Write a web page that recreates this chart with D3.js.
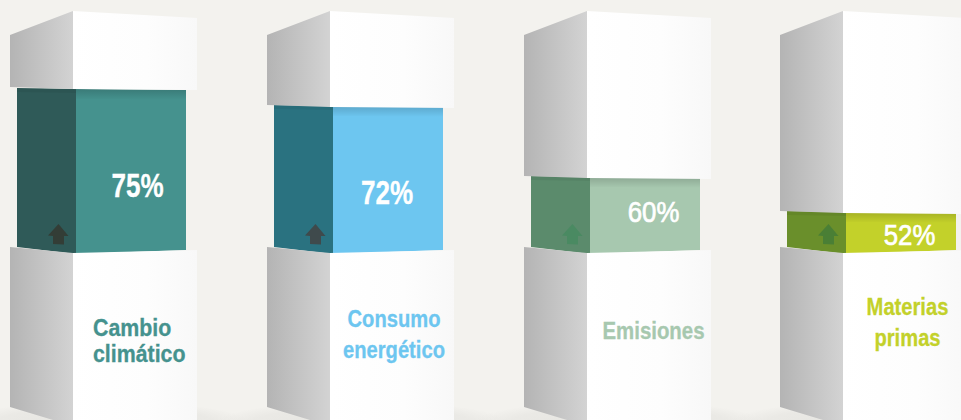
<!DOCTYPE html>
<html><head><meta charset="utf-8">
<script src="https://cdnjs.cloudflare.com/ajax/libs/d3/7.8.5/d3.min.js"></script>
<style>html,body{margin:0;padding:0;background:#f3f2ee}svg{display:block}text{font-family:"Liberation Sans",Arial,sans-serif}</style>
</head><body><svg id="c" width="961" height="420"></svg>
<script>
const categories=[["Cambio","climático"],["Consumo","energético"],["Emisiones"],["Materias","primas"]];
const values=[75,72,60,52];
const frontColors=["#45928e","#6dc6f0","#a7c8af","#c3d12a"];
const sideColors=["#2f5a58","#2a7280","#5b8b6c","#6a8f2b"];
const arrowColors=["#333d36","#3f4a4c","#4a8a62","#4a7f35"];
const valueText=["75%","72%","60%","52%"];

const svg=d3.select("#c");
const defs=svg.append("defs");
const lg=(id,stops)=>{const g=defs.append("linearGradient").attr("id",id);stops.forEach(([o,c,a])=>g.append("stop").attr("offset",o).attr("stop-color",c).attr("stop-opacity",a==null?1:a));return g;};
lg("side",[[0,"#b4b4b4"],[1,"#d3d3d3"]]);
lg("front",[[0,"#ffffff"],[0.6,"#fdfdfd"],[1,"#f8f8f8"]]);
const sh=defs.append("radialGradient").attr("id","floor");
sh.append("stop").attr("offset",0).attr("stop-color","#e4e3df").attr("stop-opacity",1);
sh.append("stop").attr("offset",.75).attr("stop-color","#e8e7e3").attr("stop-opacity",.8);
sh.append("stop").attr("offset",1).attr("stop-color","#e8e7e3").attr("stop-opacity",0);
lg("dark",[[0,"#000",.16],[1,"#000",0]]).attr("x2",0).attr("y2",1);

// column position and value → bar-top position
const x=d3.scaleOrdinal().domain(d3.range(4)).range([0,257,514,770]);
const y=d3.scaleLinear().domain([52,60,72,75]).range([211,176,105,88]);

// box shape (relative to each column)
const L=10,C=73,R=197;
const line=d3.line();

const cols=svg.selectAll("g.col").data(values).join("g").attr("class","col")
  .attr("transform",(d,i)=>`translate(${x(i)},0)`);

cols.append("ellipse").attr("cx",105).attr("cy",425).attr("rx",150).attr("ry",24).attr("fill","url(#floor)");

cols.each(function(v,i){
  const g=d3.select(this),t=y(v);
  const bl=17,bc=76,br=186;
  g.append("path").attr("d",line([[bl,t],[bc,t+1],[bc,254],[bl,247]])).attr("fill",sideColors[i]);
  g.append("path").attr("d",line([[bc,t+1],[br,t+2],[br,250],[bc,254]])).attr("fill",frontColors[i]);
  g.append("path").attr("d",line([[bc,t+1],[br,t+2],[br,t+12],[bc,t+11]])).attr("fill","url(#dark)");
  g.append("path").attr("d",line([[bl,t],[bc,t+1],[bc,t+5],[bl,t+4]])).attr("fill","#000").attr("opacity",.05);
  g.append("path").attr("d",line([[58.5,224],[68.5,236],[64,236],[64,244.5],[53,244],[53,236],[48,235.5]])+"Z").attr("fill",arrowColors[i]);
  const b=t+(i==0?-1:0);
  g.append("path").attr("d",line([[L,35],[C,11],[C,b+2],[L,b]])).attr("fill","url(#side)");
  g.append("path").attr("d",line([[C,11],[R,18],[R,b+3],[C,b+2]])).attr("fill","url(#front)");
  g.append("path").attr("d",line([[L,247],[C,253],[C,426],[L,407]])).attr("fill","url(#side)");
  g.append("path").attr("d",line([[C,253],[R,250],[R,421],[C,421]])).attr("fill","url(#front)");
});

const pct=[{x:137.5,y:197,s:33,w:"bold",k:.79,o:.3},{x:387,y:204,s:33,w:"bold",k:.79,o:.3},{x:653.5,y:222,s:30,w:"normal",k:.86,o:.7},{x:909.5,y:245,s:30,w:"normal",k:.86,o:.7}];
svg.selectAll("text.pct").data(valueText).join("text").attr("class","pct")
  .attr("transform",(d,i)=>`translate(${pct[i].x},${pct[i].y}) scale(${pct[i].k},1)`).attr("text-anchor","middle")
  .attr("font-size",(d,i)=>pct[i].s).attr("font-weight",(d,i)=>pct[i].w).attr("fill","#fff").attr("stroke","#fff").attr("stroke-width",(d,i)=>pct[i].o).text(d=>d);

const lab=[{x:93,y:[336,362],a:"start",k:.89},{x:394,y:[327,358],a:"middle",k:.84},{x:653.5,y:[339],a:"middle",k:.85},{x:907.5,y:[315,346],a:"middle",k:.84}];
categories.forEach((ls,i)=>ls.forEach((s,j)=>{
  svg.append("text").attr("transform",`translate(${lab[i].x},${lab[i].y[j]}) scale(${lab[i].k},1)`).attr("text-anchor",lab[i].a)
   .attr("font-size",24).attr("font-weight","bold").attr("fill",frontColors[i]).attr("stroke",frontColors[i]).attr("stroke-width",.3).text(s);
}));
</script></body></html>
